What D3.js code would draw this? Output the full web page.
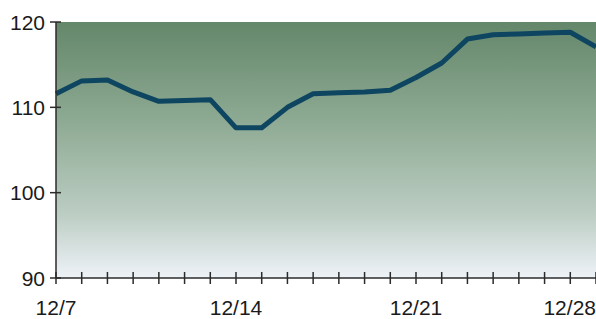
<!DOCTYPE html>
<html>
<head>
<meta charset="utf-8">
<script src="https://cdn.jsdelivr.net/npm/d3@7"></script>
<style>
  html, body { margin: 0; padding: 0; background: #fff; }
  svg { display: block; }
  .lbl { font-family: "Liberation Sans", Arial, sans-serif; font-size: 21px; fill: #1a1a1a; }
</style>
</head>
<body>
<div id="chart"></div>
<script>
const width = 596;
const height = 319;

// daily values 12/7 .. 12/28
const days = ["12/7","12/8","12/9","12/10","12/11","12/12","12/13","12/14","12/15","12/16","12/17",
              "12/18","12/19","12/20","12/21","12/22","12/23","12/24","12/25","12/26","12/27","12/28"];
const values = [111.6, 113.1, 113.2, 111.8, 110.7, 110.8, 110.9, 107.6, 107.6, 110.0, 111.6,
                111.7, 111.8, 112.0, 113.5, 115.2, 118.0, 118.5, 118.6, 118.7, 118.8, 117.1];
const yTicks = [90, 100, 110, 120];
const xLabels = ["12/7", "12/14", "12/21", "12/28"];

const margin = { top: 22, right: 0, bottom: 41, left: 56 };

let svg = d3.select("#chart").append("svg")
    .attr("width", width)
    .attr("height", height);

let x = d3.scalePoint()
    .domain(days)
    .range([margin.left, width - margin.right]);
let y = d3.scaleLinear()
    .domain([90, 120])
    .range([height - margin.bottom, margin.top]);

let defs = svg.append("defs");
let grad = defs.append("linearGradient")
    .attr("id", "bg")
    .attr("x1", 0).attr("y1", 0).attr("x2", 0).attr("y2", 1);
grad.append("stop").attr("offset", "0%").attr("stop-color", "#64876a");
grad.append("stop").attr("offset", "40%").attr("stop-color", "#8fab95");
grad.append("stop").attr("offset", "75%").attr("stop-color", "#bccdc3");
grad.append("stop").attr("offset", "100%").attr("stop-color", "#eef2f8");

svg.append("rect")
    .attr("x", margin.left)
    .attr("y", margin.top)
    .attr("width", width - margin.right - margin.left)
    .attr("height", y(90) - margin.top)
    .attr("fill", "url(#bg)");

// line
let line = d3.line()
    .x((d, i) => x(days[i]))
    .y(d => y(d));
svg.append("path")
    .datum(values)
    .attr("d", line)
    .attr("fill", "none")
    .attr("stroke", "#0e4560")
    .attr("stroke-width", 5)
    .attr("stroke-linejoin", "round");

// y axis
let axisColor = "#2b2b2b";
svg.append("line")
    .attr("x1", margin.left).attr("x2", margin.left)
    .attr("y1", y(120)).attr("y2", y(90))
    .attr("stroke", axisColor).attr("stroke-width", 1.5);
svg.selectAll(".ytick")
    .data(yTicks)
    .enter()
    .append("line")
    .attr("x1", margin.left - 6).attr("x2", margin.left + 5)
    .attr("y1", d => y(d)).attr("y2", d => y(d))
    .attr("stroke", axisColor).attr("stroke-width", 1.5);
svg.selectAll(".ylbl")
    .data(yTicks)
    .enter()
    .append("text")
    .classed("lbl", true)
    .attr("x", margin.left - 11)
    .attr("y", d => y(d))
    .attr("dy", "0.36em")
    .attr("text-anchor", "end")
    .text(d => d);

// x axis
svg.append("line")
    .attr("x1", margin.left).attr("x2", width)
    .attr("y1", y(90)).attr("y2", y(90))
    .attr("stroke", axisColor).attr("stroke-width", 1.5);
svg.selectAll(".xtick")
    .data(days)
    .enter()
    .append("line")
    .attr("x1", d => x(d)).attr("x2", d => x(d))
    .attr("y1", y(90) - 6).attr("y2", y(90) + 6)
    .attr("stroke", axisColor).attr("stroke-width", 1.5);
svg.selectAll(".xlbl")
    .data(xLabels)
    .enter()
    .append("text")
    .classed("lbl", true)
    .attr("x", d => x(d))
    .attr("y", 315)
    .attr("text-anchor", (d, i) => i === xLabels.length - 1 ? "end" : "middle")
    .text(d => d);
</script>
</body>
</html>
